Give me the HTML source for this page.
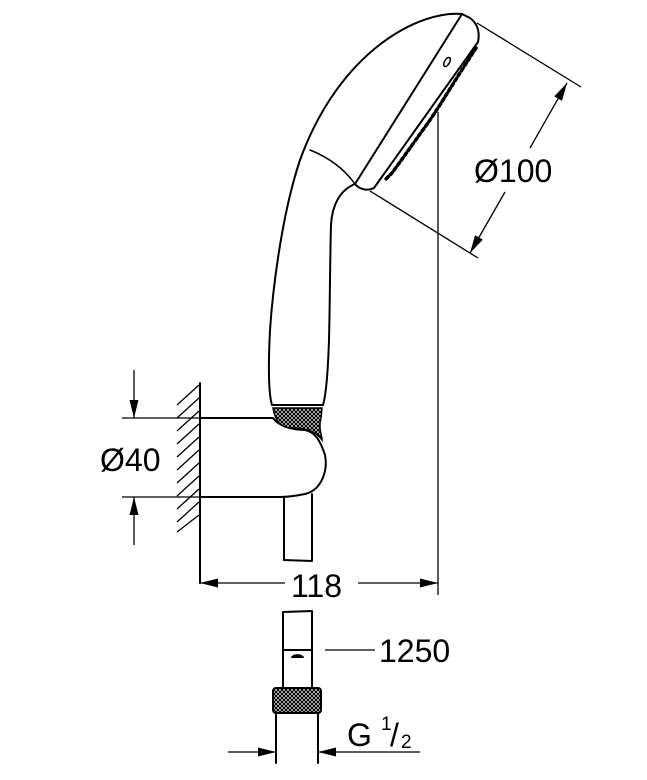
<!DOCTYPE html>
<html><head><meta charset="utf-8"><style>
html,body{margin:0;padding:0;background:#fff;}
svg{display:block;}
text{font-family:"Liberation Sans",sans-serif;fill:#000;}
</style></head><body>
<svg width="647" height="780" viewBox="0 0 647 780" xmlns="http://www.w3.org/2000/svg">
<defs>
<pattern id="knurl" width="4" height="4" patternUnits="userSpaceOnUse">
<rect width="4" height="4" fill="#fff"/>
<path d="M0 0L4 4M4 0L0 4" stroke="#000" stroke-width="1.2"/>
</pattern>
<marker id="ar" viewBox="0 0 10 10" refX="10" refY="5" markerWidth="18" markerHeight="18" markerUnits="userSpaceOnUse" orient="auto">
<path d="M0 2.5L10 5L0 7.5z" fill="#000"/>
</marker>
</defs>
<g fill="none" stroke="#000" stroke-width="2" stroke-linecap="round" stroke-linejoin="round">
<path d="M462 14 C420 10 340 50 300 160 C280 220 272 300 270 330 C268 370 269 395 272 405"/>
<path d="M355 184 C340 190 332 205 331 225 C330 260 330 300 329 340 C328 370 326 395 323 405"/>
<path d="M272 405 L323 405"/>
<path d="M462 14 L355 184 C360 190 368 191 374 188 L478 42 C480 32 478 24 470 18 L462 14"/>
<path d="M310 150 C330 158 345 170 355 184" stroke-width="1.5"/>
<ellipse cx="447" cy="62" rx="2.5" ry="5" transform="rotate(30 447 62)" stroke-width="1.5"/>
<path d="M476 48 L467 62 L458 76 L448 92 L438 108 L430 120 L420 134 L410 148 L400 162 L392 173 L386 179" stroke-width="3.5" stroke-dasharray="3 3"/>
<path d="M200 418 L273 418 C278 425 290 430 305 430 C315 432 320 440 325 455 C328 470 322 490 305 494 C295 496 288 497 280 497 L200 497"/>
<path d="M200 383 L200 583"/>
<path d="M284 497 L284 560 M312 494 L312 560"/>
<path d="M284 560 L312 561"/>
<path d="M283 612 L312 611 M283 612 L283 688 M312 611 L312 688 M283 650 L312 650"/>
<path d="M276 713 L276 763 M318 713 L318 763"/>
</g>
<path d="M273 408 L322 408 L321 418 C318 428 322 435 322 440 C315 430 305 428 290 428 C280 427 275 420 273 408z" fill="url(#knurl)" stroke="#000" stroke-width="1.5"/>
<rect x="273" y="688" width="48" height="25" rx="3" fill="url(#knurl)" stroke="#000" stroke-width="2"/>
<path d="M291 658 C291 653 304 653 304 658z" fill="#000"/>
<g stroke="#000" stroke-width="1.3">
<path d="M177 405L199 385 M177 418L199 398 M177 431L199 411 M177 444L199 424 M177 457L199 437 M177 470L199 450 M177 483L199 463 M177 496L199 476 M177 509L199 489 M177 522L199 502 M177 532L199 515"/>
</g>
<g stroke="#000" stroke-width="1.3" fill="none">
<path d="M438 112 L438 595"/>
<path d="M477 23 L581 87 M370 191 L478 258"/>
<path d="M530 148 L567 83" marker-end="url(#ar)"/>
<path d="M505 192 L470 253" marker-end="url(#ar)"/>
<path d="M122 418 L200 418 M122 497 L200 497"/>
<path d="M134 370 L134 418" marker-end="url(#ar)"/>
<path d="M134 545 L134 497" marker-end="url(#ar)"/>
<path d="M285 583 L200 583" marker-end="url(#ar)"/>
<path d="M358 583 L438 583" marker-end="url(#ar)"/>
<path d="M325 650 L375 650"/>
<path d="M228 752 L276 752" marker-end="url(#ar)"/>
<path d="M420 752 L318 752" marker-end="url(#ar)"/>
</g>
<text x="474" y="182" font-size="32">Ø100</text>
<text x="100" y="471" font-size="32">Ø40</text>
<text x="291" y="597" font-size="32">118</text>
<text x="379" y="662" font-size="32">1250</text>
<text x="347" y="746" font-size="32">G</text>
<text x="381" y="730" font-size="19">1</text>
<text x="390" y="746" font-size="32">/</text>
<text x="401" y="748" font-size="19">2</text>
</svg>
</body></html>
